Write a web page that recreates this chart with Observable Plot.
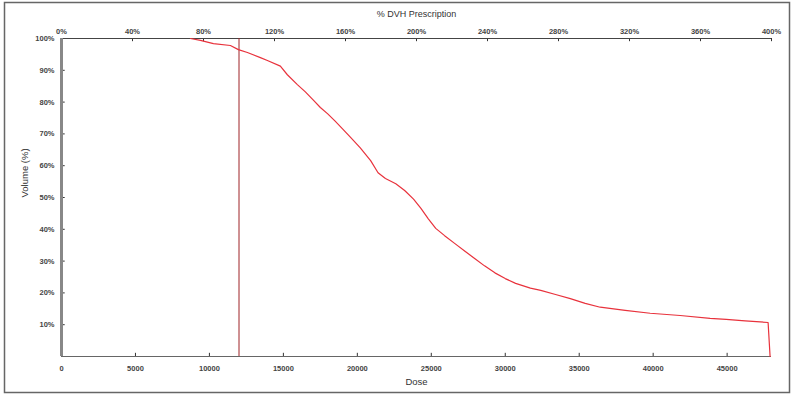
<!DOCTYPE html>
<html><head><meta charset="utf-8">
<script src="https://cdn.jsdelivr.net/npm/d3@7"></script>
<script src="https://cdn.jsdelivr.net/npm/@observablehq/plot@0.6"></script>
<style>
html,body{margin:0;padding:0;background:#fff;}
#chart{position:relative;width:800px;height:397px;}
</style>
</head><body><div id="chart"></div>
<script>
// Data (dose, volume in %)
const dose = [8716, 9392, 10270, 11419, 11959, 12568, 13446, 13919, 14797, 15270, 15946, 16486, 17027, 17500, 18000, 18500, 19000, 19527, 20200, 20900, 21400, 21900, 22600, 23200, 23800, 24300, 24800, 25300, 25900, 26600, 27300, 28000, 28600, 29300, 30000, 30700, 31700, 32400, 33400, 34400, 35405, 36419, 38108, 39797, 41824, 43851, 44932, 46216, 47770, 47905];
const volume = [100, 99.4, 98.4, 97.8, 96.5, 95.6, 94.0, 93.1, 91.3, 88.6, 85.5, 83.2, 80.6, 78.3, 76.3, 74.0, 71.6, 69.0, 65.6, 61.6, 57.8, 56.0, 54.3, 52.2, 49.5, 46.6, 43.3, 40.3, 38.0, 35.5, 33.0, 30.6, 28.5, 26.3, 24.5, 23.0, 21.5, 20.8, 19.5, 18.2, 16.7, 15.5, 14.5, 13.6, 12.9, 12.0, 11.7, 11.2, 10.7, 0];
const prescriptionDose = 12000;
const maxDose = 48000;
const doseTicks = [0, 5000, 10000, 15000, 20000, 25000, 30000, 35000, 40000, 45000];
const pctTicks = [0, 40, 80, 120, 160, 200, 240, 280, 320, 360, 400];
const volTicks = [10, 20, 30, 40, 50, 60, 70, 80, 90, 100];
const title = "% DVH Prescription";
const xLabel = "Dose";
const yLabel = "Volume (%)";

const curve = dose.map((d, i) => ({dose: d, volume: volume[i]}));
const pctDose = pctTicks.map(p => p * prescriptionDose / 100);

const font = "Liberation Sans, Arial, sans-serif";
const tickStyle = {fontSize: 7.5, fontWeight: "bold", fill: "#444"};

const chart = Plot.plot({
  width: 800,
  height: 397,
  marginLeft: 61,
  marginRight: 29,
  marginTop: 38,
  marginBottom: 41,
  style: {fontFamily: font, background: "#fff", overflow: "visible"},
  x: {domain: [0, maxDose]},
  y: {domain: [0, 100]},
  marks: [
    Plot.axisX(doseTicks, {anchor: "bottom", tickSize: 0, tickPadding: 9, tickFormat: d => String(d), ...tickStyle, label: null}),
    Plot.axisX(pctDose, {anchor: "top", tickSize: 0, tickPadding: 5, tickFormat: d => Math.round(d / prescriptionDose * 100) + "%", ...tickStyle, label: null}),
    Plot.axisY(volTicks, {anchor: "left", tickSize: 0, tickPadding: 7, tickFormat: d => d + "%", ...tickStyle, label: null}),
    Plot.ruleX(doseTicks, {y1: 0, y2: 1, stroke: "#333"}),
    Plot.ruleX(pctDose, {y1: 99, y2: 100, stroke: "#333"}),
    Plot.ruleY(volTicks, {x1: 0, x2: 250, stroke: "#333"}),
    Plot.ruleY([0], {stroke: "#666", strokeWidth: 1}),
    Plot.ruleY([100], {stroke: "#444", strokeWidth: 1}),
    Plot.ruleX([0], {stroke: "#888", strokeWidth: 3}),
    Plot.ruleX([prescriptionDose], {stroke: "#9e2226", strokeWidth: 1}),
    Plot.line(curve, {x: "dose", y: "volume", stroke: "#e8323c", strokeWidth: 1.2}),
    Plot.text([title], {frameAnchor: "top", dy: -28, fontSize: 9, fill: "#333"}),
    Plot.text([xLabel], {frameAnchor: "bottom", dy: 28, fontSize: 9.5, fill: "#333"}),
    Plot.text([yLabel], {frameAnchor: "left", dx: -37, rotate: -90, fontSize: 9.5, fill: "#333"})
  ]
});

d3.select(chart).insert("rect", ":first-child")
  .attr("x", 4.5).attr("y", 2.5).attr("width", 785).attr("height", 390)
  .attr("fill", "none").attr("stroke", "#666").attr("stroke-width", 1.5);

document.getElementById("chart").appendChild(chart);
</script>
</body></html>
